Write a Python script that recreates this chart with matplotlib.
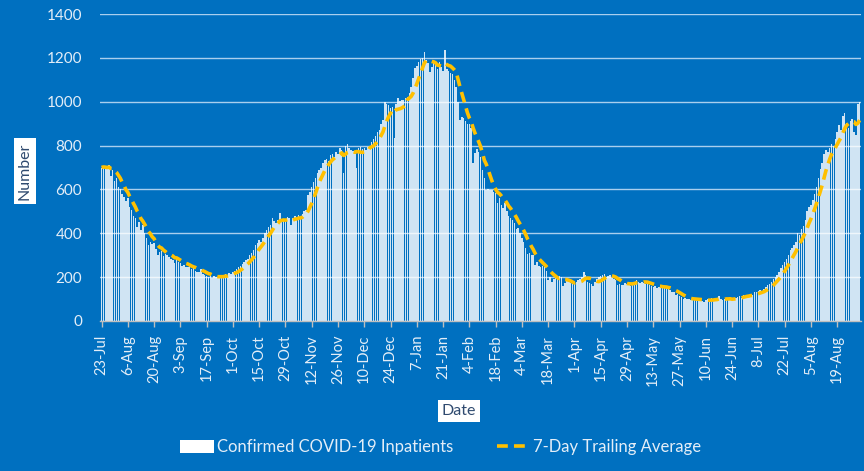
import numpy as np
import pandas as pd
import matplotlib
matplotlib.use('Agg')
import matplotlib.pyplot as plt
from matplotlib.patches import Patch
from matplotlib.lines import Line2D

plt.rcParams['font.family'] = ['Lato', 'DejaVu Sans']

start_date = '2020-07-23'

# Daily confirmed COVID-19 inpatients (one row per week, starting 23-Jul-2020)
inpatients = [
    700, 705, 700, 695, 710, 660, 690,
    640, 650, 610, 600, 580, 565, 545,
    560, 520, 505, 480, 470, 430, 450,
    415, 440, 400, 380, 345, 360, 350,
    355, 330, 300, 315, 320, 295, 305,
    300, 290, 285, 280, 265, 290, 270,
    265, 250, 255, 245, 245, 260, 235,
    240, 230, 225, 225, 235, 215, 210,
    205, 200, 210, 195, 205, 200, 200,
    205, 200, 210, 215, 205, 220, 215,
    225, 230, 235, 245, 250, 260, 270,
    278, 285, 300, 310, 325, 347, 355,
    370, 360, 380, 400, 415, 430, 440,
    470, 455, 445, 460, 492, 450, 455,
    460, 475, 470, 440, 470, 480, 465,
    485, 480, 490, 500, 505, 575, 590,
    610, 635, 650, 675, 690, 700, 720,
    735, 740, 730, 757, 760, 750, 770,
    760, 790, 780, 675, 800, 805, 790,
    780, 775, 760, 700, 790, 793, 785,
    790, 780, 795, 800, 815, 830, 845,
    860, 870, 900, 917, 1000, 990, 985,
    970, 975, 835, 990, 1015, 1005, 1010,
    1010, 1015, 1020, 1040, 1068, 1108, 1153,
    1165, 1182, 1195, 1200, 1227, 1190, 1175,
    1137, 1160, 1185, 1170, 1150, 1180, 1160,
    1140, 1235, 1150, 1140, 1130, 1125, 1100,
    1065, 1000, 917, 930, 925, 910, 900,
    900, 880, 720, 765, 785, 770, 750,
    690, 650, 597, 600, 597, 597, 590,
    585, 540, 560, 530, 515, 540, 500,
    480, 470, 460, 445, 420, 425, 400,
    380, 360, 335, 305, 310, 300, 300,
    255, 270, 250, 245, 250, 245, 230,
    185, 200, 180, 190, 200, 195, 205,
    200, 160, 175, 185, 180, 175, 170,
    172, 180, 185, 190, 200, 225, 210,
    180, 175, 170, 160, 180, 193, 200,
    205, 210, 215, 200, 205, 210, 195,
    190, 187, 165, 170, 165, 165, 175,
    170, 180, 160, 170, 180, 185, 180,
    175, 180, 175, 170, 175, 165, 160,
    155, 160, 150, 155, 165, 150, 155,
    150, 145, 140, 133, 130, 120, 125,
    115, 110, 100, 105, 100, 100, 95,
    100, 105, 98, 100, 95, 90, 85,
    95, 100, 100, 105, 95, 100, 90,
    115, 100, 95, 100, 105, 100, 95,
    100, 105, 103, 110, 115, 105, 120,
    115, 120, 112, 125, 120, 130, 130,
    135, 140, 135, 145, 155, 165, 170,
    180, 190, 200, 210, 223, 240, 255,
    268, 285, 300, 322, 335, 345, 360,
    400, 390, 420, 435, 460, 500, 520,
    530, 550, 580, 610, 650, 695, 720,
    760, 780, 770, 790, 805, 800, 830,
    860, 895, 870, 935, 950, 905, 880,
    910, 920, 860, 850, 990, 1000,
]

y_ticks = [0, 200, 400, 600, 800, 1000, 1200, 1400]
tick_step_days = 14

dates = pd.date_range(start_date, periods=len(inpatients), freq='D')
avg7 = pd.Series(inpatients).rolling(7, min_periods=1).mean()

BG = '#0070C0'
TXT = '#E4EEF8'
GRID = '#A9CFEE'

fig = plt.figure(figsize=(8.64, 4.71), dpi=100, facecolor=BG)
ax = fig.add_axes([100 / 864, 1 - 321 / 471, 761 / 864, 307 / 471])
ax.set_facecolor(BG)

x = np.arange(len(inpatients))
ax.bar(x, inpatients, width=0.78, color='white', alpha=0.82, linewidth=0, zorder=2)
ax.plot(x, avg7, color='#FFC000', lw=2.6, linestyle=(0, (3, 1.7)), zorder=3)

ax.set_ylim(0, 1400)
ax.set_xlim(-0.8, len(inpatients) - 0.3)
ax.set_yticks(y_ticks)
ax.set_yticklabels([str(v) for v in y_ticks])
ax.set_axisbelow(True)
ax.grid(axis='y', color=GRID, lw=1.0)

tick_pos = x[::tick_step_days]
ax.set_xticks(tick_pos)
ax.set_xticklabels([f"{d.day}-{d.strftime('%b')}" for d in dates[::tick_step_days]],
                   rotation=90)

for s in ['top', 'right', 'left']:
    ax.spines[s].set_visible(False)
ax.spines['bottom'].set_color('#BFBFBF')
ax.spines['bottom'].set_linewidth(1.0)

ax.tick_params(axis='y', length=0, pad=13, labelsize=11, labelcolor=TXT)
ax.tick_params(axis='x', length=4, width=1, color='#BFBFBF', pad=6,
               labelsize=10.5, labelcolor=TXT)

fig.text(25 / 864, 1 - 171 / 471, 'Number', rotation=90, ha='center', va='center',
         fontsize=11.5, color='#2F4A6F',
         bbox=dict(facecolor='white', edgecolor='none', boxstyle='square,pad=0.25'))
fig.text(459 / 864, 1 - 411 / 471, 'Date', ha='center', va='center',
         fontsize=11.5, color='#2F4A6F',
         bbox=dict(facecolor='white', edgecolor='none', boxstyle='square,pad=0.25'))

handles = [Patch(facecolor='white', edgecolor='none'),
           Line2D([0], [0], color='#FFC000', lw=2.6, linestyle=(0, (3, 1.7)))]
leg = fig.legend(handles, ['Confirmed COVID-19 Inpatients', '7-Day Trailing Average'],
                 loc='center', bbox_to_anchor=(441 / 864, 1 - 447 / 471), ncol=2,
                 frameon=False, fontsize=12, handlelength=2.0, handletextpad=0.2,
                 columnspacing=2.6, handleheight=0.8)
for t in leg.get_texts():
    t.set_color(TXT)

fig.savefig('out.png', dpi=100, facecolor=BG)
